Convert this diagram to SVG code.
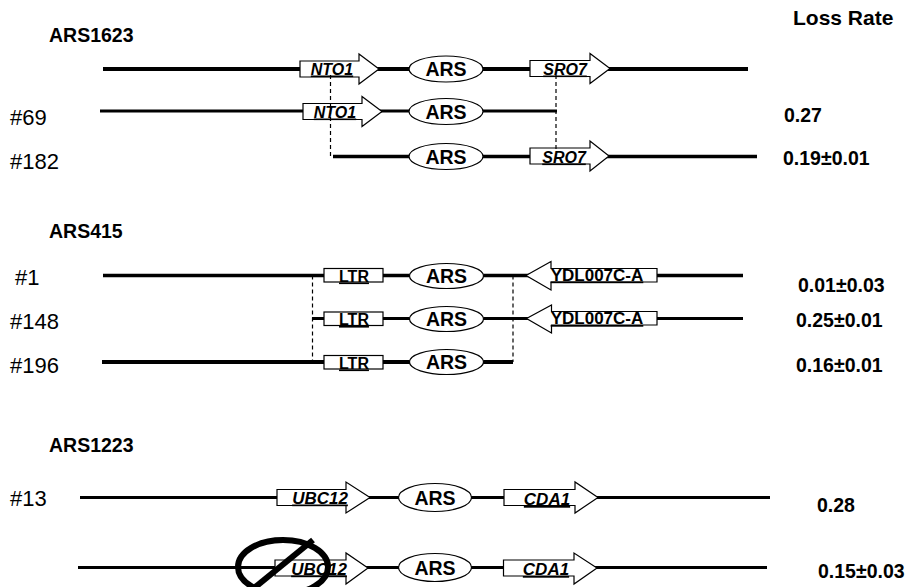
<svg xmlns="http://www.w3.org/2000/svg" width="908" height="587" viewBox="0 0 908 587">
<style>
text{font-family:"Liberation Sans",Arial,Helvetica,sans-serif;fill:#000}
.hdr{font-size:19.5px;font-weight:bold}
.num{font-size:22px}
.val{font-size:19.5px;font-weight:bold}
.ars{font-size:19.5px;font-weight:bold}
.gene{font-size:16px;font-weight:bold;font-style:italic;text-decoration:underline}
.geneN{font-size:16px;font-weight:bold;text-decoration:underline}
.bb{stroke:#000;stroke-width:3.5;fill:none}
.dash{stroke:#000;stroke-width:1.2;stroke-dasharray:4 3;fill:none}
.shape{fill:#fff;stroke:#000;stroke-width:1.2}
.no{fill:none;stroke:#000;stroke-width:6}
</style>

<g id="labels">
<text class="hdr" x="793" y="25" style="font-size:21px">Loss Rate</text>
<text class="hdr" x="49" y="42">ARS1623</text>
<text class="hdr" x="49" y="238">ARS415</text>
<text class="hdr" x="49" y="452">ARS1223</text>
<text class="num" x="10" y="125">#69</text>
<text class="num" x="10" y="169">#182</text>
<text class="num" x="15" y="285">#1</text>
<text class="num" x="10" y="329">#148</text>
<text class="num" x="10" y="373">#196</text>
<text class="num" x="10" y="506">#13</text>
<text class="val" x="784" y="122">0.27</text>
<text class="val" x="783" y="165">0.19±0.01</text>
<text class="val" x="798" y="292">0.01±0.03</text>
<text class="val" x="796" y="327">0.25±0.01</text>
<text class="val" x="796" y="372">0.16±0.01</text>
<text class="val" x="817" y="512">0.28</text>
<text class="val" x="818" y="578">0.15±0.03</text>
</g>

<g id="backbones">
<line class="bb" x1="103" y1="69" x2="748" y2="69" style="stroke-width:4"/>
<line class="bb" x1="100" y1="111" x2="557" y2="111" style="stroke-width:3"/>
<line class="bb" x1="333" y1="156.5" x2="757" y2="156.5"/>
<line class="bb" x1="103" y1="275.5" x2="743" y2="275.5"/>
<line class="bb" x1="312" y1="318.5" x2="743" y2="318.5" style="stroke-width:3"/>
<line class="bb" x1="102" y1="362" x2="513" y2="362" style="stroke-width:4"/>
<line class="bb" x1="80" y1="497.5" x2="770" y2="497.5" style="stroke-width:3"/>
<line class="bb" x1="78" y1="567.5" x2="767" y2="567.5" style="stroke-width:3"/>
</g>

<g id="a1-nto1"><polygon class="shape" points="300,61 359,61 359,54 379,69 359,84 359,77 300,77"/><text class="gene" x="332" y="74.5" text-anchor="middle">NTO1</text></g>
<g id="a1-ars"><ellipse class="shape" cx="446" cy="69" rx="37" ry="13"/><text class="ars" x="446" y="76" text-anchor="middle">ARS</text></g>
<g id="a1-sro7"><polygon class="shape" points="530,60.5 590,60.5 590,53.5 610,68.5 590,83.5 590,76.5 530,76.5"/><text class="gene" x="565" y="74.5" text-anchor="middle">SRO7</text></g>

<g id="a2-nto1"><polygon class="shape" points="303,103.5 362,103.5 362,96.5 382,111.5 362,126.5 362,119.5 303,119.5"/><text class="gene" x="335" y="117.5" text-anchor="middle">NTO1</text></g>
<g id="a2-ars"><ellipse class="shape" cx="446" cy="111.5" rx="37" ry="13"/><text class="ars" x="446" y="118.5" text-anchor="middle">ARS</text></g>

<g id="a3-ars"><ellipse class="shape" cx="446" cy="156.5" rx="37" ry="13"/><text class="ars" x="446" y="163.5" text-anchor="middle">ARS</text></g>
<g id="a3-sro7"><polygon class="shape" points="530,148 590,148 590,141 609,156 590,171 590,164 530,164"/><text class="gene" x="564" y="162.5" text-anchor="middle">SRO7</text></g>

<g id="b1-ltr"><rect class="shape" x="324" y="268.5" width="59" height="13.5"/><text class="geneN" x="354" y="281.5" text-anchor="middle">LTR</text></g>
<g id="b1-ars"><ellipse class="shape" cx="446.5" cy="276" rx="37" ry="12.5"/><text class="ars" x="446.5" y="283" text-anchor="middle">ARS</text></g>
<g id="b1-ydl"><polygon class="shape" points="657,268.5 551,268.5 551,261.5 526,275.5 551,290 551,282 657,282"/><text class="geneN" x="597" y="280.5" text-anchor="middle" style="font-size:17px">YDL007C-A</text></g>

<g id="b2-ltr"><rect class="shape" x="324" y="312" width="59" height="13.5"/><text class="geneN" x="354" y="325" text-anchor="middle">LTR</text></g>
<g id="b2-ars"><ellipse class="shape" cx="446.5" cy="319" rx="37" ry="12.5"/><text class="ars" x="446.5" y="326" text-anchor="middle">ARS</text></g>
<g id="b2-ydl"><polygon class="shape" points="657,311.5 551.5,311.5 551.5,305 526.5,318.5 551.5,333 551.5,325 657,325"/><text class="geneN" x="597" y="324" text-anchor="middle" style="font-size:17px">YDL007C-A</text></g>

<g id="b3-ltr"><rect class="shape" x="324" y="355.5" width="59" height="13.5"/><text class="geneN" x="354" y="368.5" text-anchor="middle">LTR</text></g>
<g id="b3-ars"><ellipse class="shape" cx="446.5" cy="362" rx="37" ry="12.5"/><text class="ars" x="446.5" y="369" text-anchor="middle">ARS</text></g>

<g id="c1-ubc12"><polygon class="shape" points="277,489.5 346,489.5 346,482 370,497.5 346,513 346,505.5 277,505.5"/><text class="gene" x="320" y="503.5" text-anchor="middle" style="font-size:17px">UBC12</text></g>
<g id="c1-ars"><ellipse class="shape" cx="435" cy="497.5" rx="36.5" ry="14"/><text class="ars" x="435" y="504.5" text-anchor="middle">ARS</text></g>
<g id="c1-cda1"><polygon class="shape" points="504,489.5 575,489.5 575,482 598,497.5 575,513 575,505.5 504,505.5"/><text class="gene" x="547" y="505" text-anchor="middle" style="font-size:17px">CDA1</text></g>

<g id="c2-ubc12"><polygon class="shape" points="275,560 346,560 346,553 368,568 346,584 346,576 275,576"/><text class="gene" x="319" y="574.5" text-anchor="middle" style="font-size:17px">UBC12</text></g>
<g id="c2-ars"><ellipse class="shape" cx="435" cy="567.5" rx="36.5" ry="14"/><text class="ars" x="435" y="574.5" text-anchor="middle">ARS</text></g>
<g id="c2-cda1"><polygon class="shape" points="503.5,560 574,560 574,553 597,568 574,584 574,576 503.5,576"/><text class="gene" x="546" y="575" text-anchor="middle" style="font-size:17px">CDA1</text></g>

<g id="c2-deleted"><ellipse class="no" cx="283" cy="567" rx="45" ry="27"/><line class="no" x1="313" y1="540" x2="248" y2="593"/></g>

<g id="connectors">
<line class="dash" x1="330.5" y1="75" x2="330.5" y2="157"/>
<line class="dash" x1="556" y1="75" x2="556" y2="149"/>
<line class="dash" x1="312.5" y1="275.5" x2="312.5" y2="362"/>
<line class="dash" x1="513" y1="275.5" x2="513" y2="362"/>
</g>
</svg>
